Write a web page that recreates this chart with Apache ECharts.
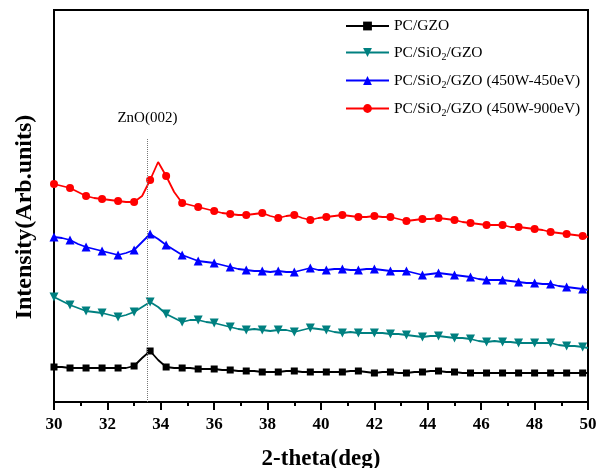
<!DOCTYPE html>
<html>
<head>
<meta charset="utf-8">
<script src="https://cdn.jsdelivr.net/npm/echarts@6/dist/echarts.min.js"></script>
<style>html,body{margin:0;padding:0;background:#fff}#c{width:605px;height:468px}</style>
</head>
<body>
<div id="c"></div>
<script>
// 2-theta positions (deg)
var twoTheta = [30,30.3,30.6,30.9,31.2,31.5,31.8,32.1,32.4,32.7,33,33.3,33.6,33.9,34.2,34.5,34.8,35.1,35.4,35.7,36,36.3,36.6,36.9,37.2,37.5,37.8,38.1,38.4,38.7,39,39.3,39.6,39.9,40.2,40.5,40.8,41.1,41.4,41.7,42,42.3,42.6,42.9,43.2,43.5,43.8,44.1,44.4,44.7,45,45.3,45.6,45.9,46.2,46.5,46.8,47.1,47.4,47.7,48,48.3,48.6,48.9,49.2,49.5,49.8,50];

// intensity (arbitrary units, offset curves)
var pcGZO = [35,35,34,34,34,34,34,34,34,34,
  36,44,51,42,35,34,34,34,33,33,
  33,32,32,31,31,31,30,30,30,31,
  31,30,30,30,30,30,30,31,31,30,
  29,30,30,29,29,30,30,31,31,30,
  30,29,29,29,29,29,29,29,29,29,
  29,29,29,29,29,29,29,29];
var pcSiO2GZO = [105,101,97,94,91,90,89,87,85,87,
  90,95,100,95,88,84,80,82,82,80,
  79,77,75,73,72,73,72,71,72,72,
  70,72,74,73,72,70,69,70,69,69,
  69,69,68,68,67,66,65,66,66,65,
  64,64,63,61,60,61,60,60,59,59,
  59,59,59,57,56,56,55,54];
var pc450_450 = [165,164,162,158,155,153,151,149,147,149,
  152,160,168,163,157,152,147,144,141,140,
  139,137,135,133,132,131,131,130,131,130,
  130,132,134,132,132,133,133,132,132,133,
  133,132,131,131,131,129,127,128,129,128,
  127,126,125,123,122,122,122,121,120,119,
  119,118,118,116,115,114,113,112];
var pc450_900 = [218,216,214,210,206,204,203,202,201,200,
  200,206,222,240,226,210,199,197,195,193,
  191,189,188,187,187,188,189,186,184,186,
  187,184,182,184,185,186,187,186,185,185,
  186,185,185,183,181,182,183,183,184,183,
  182,180,179,178,177,177,177,175,175,174,
  173,172,170,169,168,167,166,165];

var seriesNames = ['PC/GZO','PC/SiO2/GZO','PC/SiO2/GZO (450W-450eV)','PC/SiO2/GZO (450W-900eV)'];
var xTicks = [30,32,34,36,38,40,42,44,46,48,50];
var peakPos = 33.5, peakLineTop = 264, peakLabel = 'ZnO(002)';

var serif = '"Liberation Serif","Times New Roman",serif';
function pts(vals){ return twoTheta.map(function(x,i){ return [x, vals[i]]; }); }
function markerSize(s){
  return function(v, p){ return (p.dataIndex % 2 === 0 && p.dataIndex < twoTheta.length - 1) ? s : 0; };
}
function mk(name, vals, color, symbol, size, rotate){
  return {
    name: name, type: 'line', data: pts(vals),
    symbol: symbol, symbolSize: markerSize(size), symbolRotate: rotate || 0,
    showAllSymbol: true, showSymbol: true,
    lineStyle: {color: color, width: 1.8},
    itemStyle: {color: color},
    emphasis: {disabled: true}, animation: false
  };
}
var s0 = mk(seriesNames[0], pcGZO, '#000000', 'rect', 7);
s0.markLine = {
  silent: true, symbol: 'none', animation: false,
  lineStyle: {type: 'dotted', color: '#777', width: 1},
  label: {show: true, position: 'end', formatter: peakLabel, fontFamily: serif, fontSize: 15, color: '#000', distance: 12},
  data: [[{coord: [peakPos, 0]}, {coord: [peakPos, peakLineTop]}]]
};
var s1 = mk(seriesNames[1], pcSiO2GZO, '#008080', 'triangle', 9, 180);
var s2 = mk(seriesNames[2], pc450_450, '#0000FF', 'triangle', 9);
var s3 = mk(seriesNames[3], pc450_900, '#FF0000', 'circle', 8);

var chart = echarts.init(document.getElementById('c'), null, {renderer: 'canvas'});
chart.setOption({
  animation: false,
  backgroundColor: '#fff',
  grid: {left: 54, right: 17, top: 10, bottom: 66, show: true, borderColor: '#000', borderWidth: 2,
    outerBoundsMode: 'none', containLabel: false},
  legend: {
    data: seriesNames, orient: 'vertical', left: 345, top: 18, padding: 0,
    itemWidth: 43, itemHeight: 11, itemGap: 10.5,
    selectedMode: false,
    textStyle: {fontFamily: serif, fontSize: 15.5, color: '#000',
      rich: {sub: {fontFamily: serif, fontSize: 10, color: '#000', padding: [9, 0, 0, 0]}}},
    formatter: function(n){ return n.replace('SiO2', 'SiO{sub|2}'); }
  },
  xAxis: {
    type: 'value', min: 30, max: 50, interval: 2,
    name: '2-theta(deg)', nameLocation: 'middle', nameGap: 46,
    nameTextStyle: {fontFamily: serif, fontSize: 23, fontWeight: 'bold', color: '#000'},
    axisLine: {lineStyle: {color: '#000', width: 2}},
    axisTick: {show: true, length: 8, lineStyle: {width: 2, color: '#000'}},
    minorTick: {show: true, splitNumber: 2, length: 4, lineStyle: {width: 2, color: '#000'}},
    splitLine: {show: false},
    axisLabel: {fontFamily: serif, fontSize: 17, fontWeight: 'bold', color: '#000', margin: 14,
      formatter: function(v){ return xTicks.indexOf(v) >= 0 ? String(v) : ''; }}
  },
  yAxis: {
    type: 'value', min: 0, max: 392,
    name: 'Intensity(Arb.units)', nameLocation: 'middle', nameGap: 17,
    nameTextStyle: {fontFamily: serif, fontSize: 24, fontWeight: 'bold', color: '#000', padding: [0, 22, 0, 0]},
    axisLine: {show: true, lineStyle: {color: '#000', width: 2}},
    axisTick: {show: false}, axisLabel: {show: false}, splitLine: {show: false}
  },
  series: [s0, s1, s2, s3]
});
</script>
</body>
</html>
